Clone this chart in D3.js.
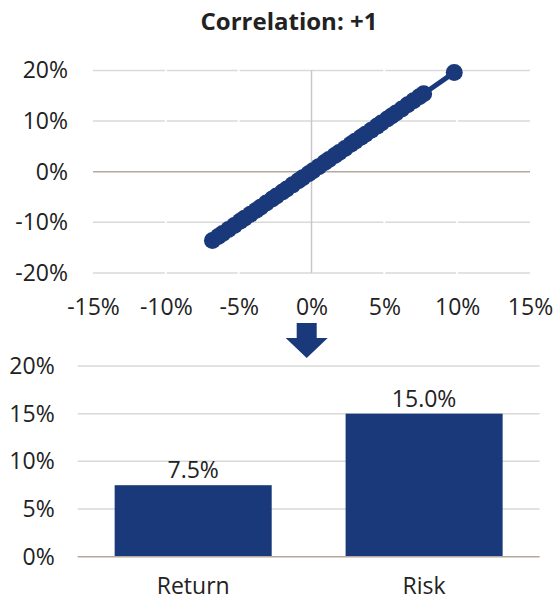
<!DOCTYPE html>
<meta charset="utf-8">
<script src="https://d3js.org/d3.v7.min.js"></script>
<style>
  body { margin: 0; background: #fff; }
  text { font-family: "Open Sans", Lato, sans-serif; fill: #222; }
</style>
<div id="chart"></div>
<script>
  // scatter data (asset A return vs asset B return), correlation +1
  var retA = [-0.068, -0.064, -0.061, -0.057, -0.053, -0.049, -0.046, -0.042, -0.038, -0.035,
              -0.031, -0.027, -0.024, -0.020, -0.017, -0.013, -0.009, -0.006, -0.002, 0.001,
              0.005, 0.009, 0.012, 0.016, 0.019, 0.023, 0.027, 0.030, 0.034, 0.037,
              0.041, 0.045, 0.048, 0.052, 0.055, 0.058, 0.062, 0.066, 0.070, 0.074, 0.077, 0.098];
  var retB = [-0.136, -0.128, -0.122, -0.114, -0.106, -0.098, -0.092, -0.084, -0.076, -0.070,
              -0.062, -0.054, -0.048, -0.040, -0.034, -0.026, -0.018, -0.012, -0.004, 0.002,
              0.010, 0.018, 0.024, 0.032, 0.038, 0.046, 0.054, 0.060, 0.068, 0.074,
              0.082, 0.090, 0.096, 0.104, 0.110, 0.116, 0.124, 0.132, 0.140, 0.148, 0.154, 0.196];
  var xTicks = [-0.15, -0.10, -0.05, 0, 0.05, 0.10, 0.15];
  var yTicks = [-0.20, -0.10, 0, 0.10, 0.20];

  // portfolio result
  var categories = ["Return", "Risk"];
  var values = [0.075, 0.150];
  var barTicks = [0, 0.05, 0.10, 0.15, 0.20];

  var navy = "#19397b";
  var fs = "23px";
  var pct = function (d) { return Math.round(d * 100) + "%"; };

  var svg = d3.select("#chart").append("svg")
    .attr("width", 554).attr("height", 601);

  // title
  svg.append("text")
    .attr("x", 289).attr("y", 30)
    .attr("text-anchor", "middle")
    .style("font-size", "24px").style("font-weight", "bold")
    .text("Correlation: +1");

  // ---- top scatter ----
  var x = d3.scaleLinear().domain([-0.15, 0.15]).range([93, 530]);
  var y = d3.scaleLinear().domain([-0.20, 0.20]).range([273, 70.4]);

  // horizontal gridlines
  svg.append("g").selectAll("line")
    .data(yTicks.filter(function (d) { return d !== 0; }))
    .enter().append("line")
    .attr("x1", x(-0.15)).attr("x2", x(0.15))
    .attr("y1", function (d) { return y(d); }).attr("y2", function (d) { return y(d); })
    .attr("stroke", "#d9d9d9").attr("stroke-width", 1.5);

  // small white breaks at x ticks
  svg.append("g").selectAll("line")
    .data(xTicks.filter(function (d) { return d !== 0 && Math.abs(d) < 0.15; }))
    .enter().append("line")
    .attr("x1", function (d) { return x(d); }).attr("x2", function (d) { return x(d); })
    .attr("y1", y(0.2) - 2).attr("y2", y(-0.2) + 2)
    .attr("stroke", "#fff").attr("stroke-width", 2);

  // zero lines
  svg.append("line")
    .attr("x1", x(0)).attr("x2", x(0))
    .attr("y1", y(0.2)).attr("y2", y(-0.2))
    .attr("stroke", "#c8c8c8").attr("stroke-width", 1.5);
  svg.append("line")
    .attr("x1", x(-0.15)).attr("x2", x(0.15))
    .attr("y1", y(0)).attr("y2", y(0))
    .attr("stroke", "#b5a89e").attr("stroke-width", 1.5);

  var pts = retA.map(function (d, i) { return [d, retB[i]]; });

  svg.append("path")
    .datum(pts)
    .attr("fill", "none")
    .attr("stroke", navy).attr("stroke-width", 5)
    .attr("d", d3.line().x(function (d) { return x(d[0]); }).y(function (d) { return y(d[1]); }));

  svg.append("g").selectAll("circle")
    .data(pts)
    .enter().append("circle")
    .attr("cx", function (d) { return x(d[0]); })
    .attr("cy", function (d) { return y(d[1]); })
    .attr("r", 8.5)
    .attr("fill", navy);

  var xAxis = svg.append("g")
    .attr("transform", "translate(0,273)")
    .call(d3.axisBottom(x).tickValues(xTicks).tickFormat(pct).tickSize(0).tickPadding(26));
  xAxis.select(".domain").remove();
  xAxis.selectAll("text").style("font-size", fs).attr("fill", "#222");

  var yAxis = svg.append("g")
    .attr("transform", "translate(93,0)")
    .call(d3.axisLeft(y).tickValues(yTicks).tickFormat(pct).tickSize(0).tickPadding(25));
  yAxis.select(".domain").remove();
  yAxis.selectAll("text").style("font-size", fs).attr("fill", "#222");

  // ---- arrow ----
  var ax = 306.7;
  svg.append("path")
    .attr("d", "M" + (ax - 10) + ",323 L" + (ax + 10) + ",323 L" + (ax + 10) + ",338 L" + (ax + 21) + ",338 L" +
      ax + ",358 L" + (ax - 21) + ",338 L" + (ax - 10) + ",338 Z")
    .attr("fill", navy);

  // ---- bottom bars ----
  var xb = d3.scaleBand().domain(categories).range([77.7, 539.6])
    .paddingInner(0.32).paddingOuter(0.16);
  var yb = d3.scaleLinear().domain([0, 0.20]).range([556.7, 366]);

  svg.append("g").selectAll("line")
    .data(barTicks.filter(function (d) { return d !== 0; }))
    .enter().append("line")
    .attr("x1", 77.7).attr("x2", 539.6)
    .attr("y1", function (d) { return yb(d); }).attr("y2", function (d) { return yb(d); })
    .attr("stroke", "#d9d9d9").attr("stroke-width", 1.5);

  svg.append("g").selectAll("rect")
    .data(values)
    .enter().append("rect")
    .attr("x", function (d, i) { return xb(categories[i]); })
    .attr("y", function (d) { return yb(d); })
    .attr("width", xb.bandwidth())
    .attr("height", function (d) { return yb(0) - yb(d); })
    .attr("fill", navy);

  svg.append("line")
    .attr("x1", 77.7).attr("x2", 539.6)
    .attr("y1", yb(0)).attr("y2", yb(0))
    .attr("stroke", "#b5a89e").attr("stroke-width", 1.5);

  svg.append("g").selectAll("text")
    .data(values)
    .enter().append("text")
    .attr("x", function (d, i) { return xb(categories[i]) + xb.bandwidth() / 2; })
    .attr("y", function (d) { return yb(d) - 7; })
    .attr("text-anchor", "middle")
    .style("font-size", fs)
    .text(d3.format(".1%"));

  var xbAxis = svg.append("g")
    .attr("transform", "translate(0," + yb(0) + ")")
    .call(d3.axisBottom(xb).tickSize(0).tickPadding(21));
  xbAxis.select(".domain").remove();
  xbAxis.selectAll("text").style("font-size", fs).attr("fill", "#222");

  var ybAxis = svg.append("g")
    .attr("transform", "translate(77.7,0)")
    .call(d3.axisLeft(yb).tickValues(barTicks).tickFormat(pct).tickSize(0).tickPadding(23));
  ybAxis.select(".domain").remove();
  ybAxis.selectAll("text").style("font-size", fs).attr("fill", "#222");
</script>
